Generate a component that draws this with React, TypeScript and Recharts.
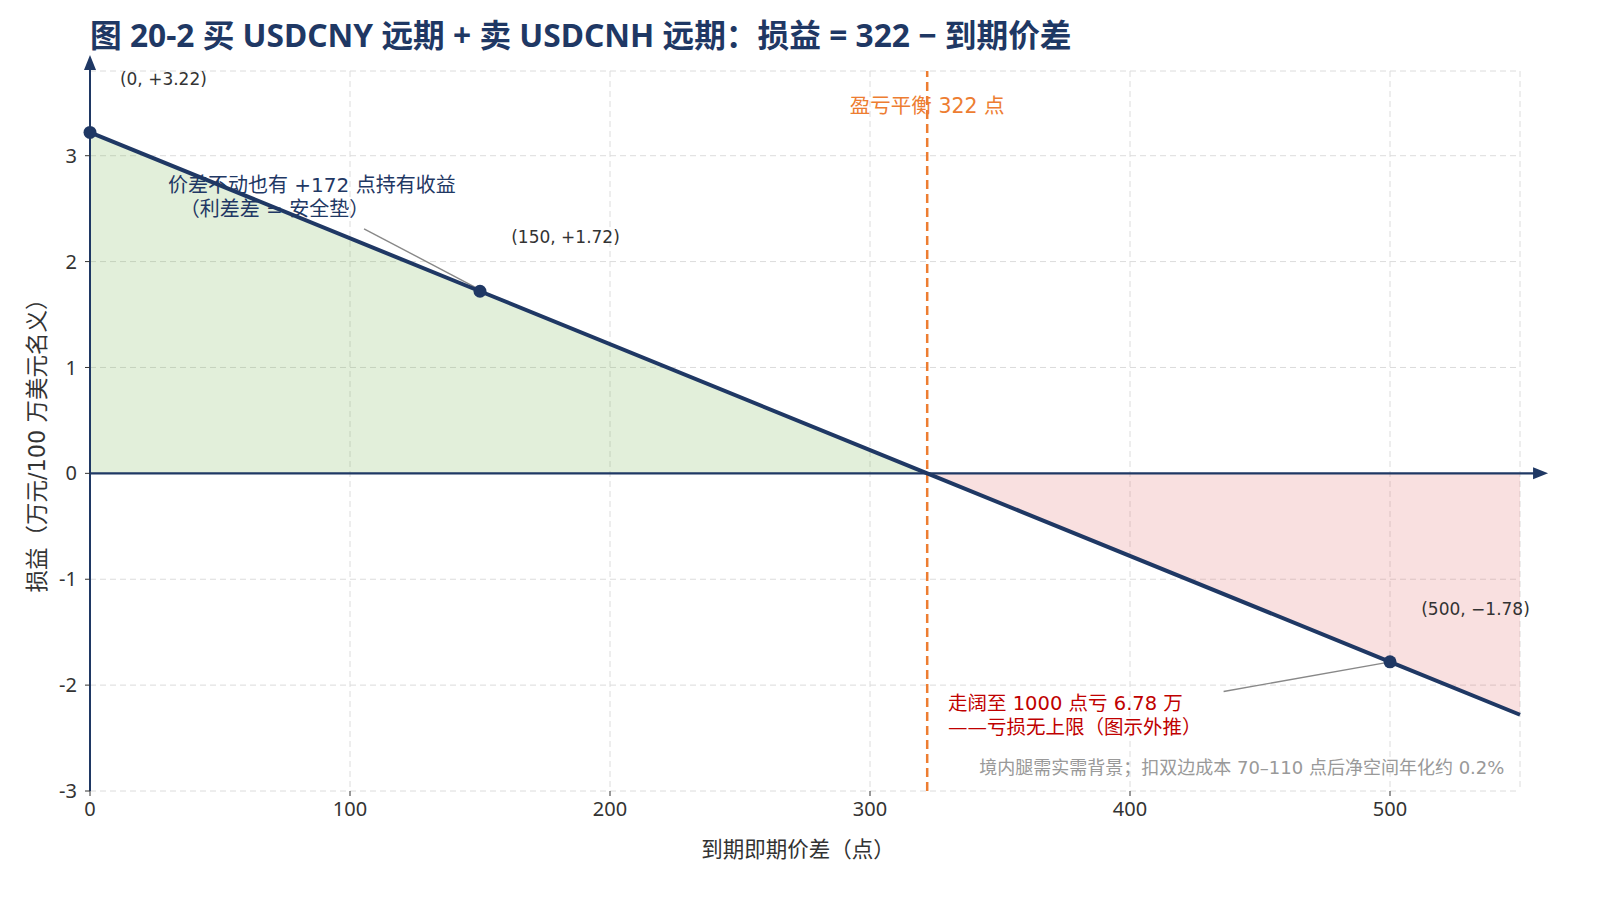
import React from 'react';
import {
  ComposedChart, Area, Line, Scatter, XAxis, YAxis, CartesianGrid,
  ReferenceLine, ReferenceDot,
} from 'recharts';

// spread at expiry (points) and P&L (10k CNY per USD 1m notional)
const SPREADS = [0, 150, 322, 500, 550];
const PNL = [3.22, 1.72, 0, -1.78, -2.28];
const KEY_SPREADS = [0, 150, 500];
const KEY_PNL = [3.22, 1.72, -1.78];
const BREAK_EVEN = 322;
const X_TICKS = [0, 100, 200, 300, 400, 500];
const Y_TICKS = [-3, -2, -1, 0, 1, 2, 3];

const NAVY = '#1f3864';
const ORANGE = '#ed7d31';
const FONT = '"Noto Sans", "Noto Sans CJK SC", sans-serif';
const NOTE_FONT = '"DejaVu Sans", "Noto Sans CJK SC", sans-serif';

const rows = SPREADS.map((x, i) => ({
  x,
  pnl: PNL[i],
  profit: x <= BREAK_EVEN ? PNL[i] : null,
  loss: x >= BREAK_EVEN ? PNL[i] : null,
}));
const keyRows = KEY_SPREADS.map((x, i) => ({ x, pnl: KEY_PNL[i] }));

type Note = { x: number; y: number; text: string; color: string; size: number; anchor?: string };
const NOTES: Note[] = [
  { x: 11.5, y: 3.72, text: '(0, +3.22)', color: '#333', size: 17 },
  { x: 162, y: 2.23, text: '(150, +1.72)', color: '#333', size: 17 },
  { x: 512, y: -1.28, text: '(500, −1.78)', color: '#333', size: 17 },
  { x: 322, y: 3.47, text: '盈亏平衡 322 点', color: ORANGE, size: 20.5, anchor: 'middle' },
  { x: 30, y: 2.72, text: '价差不动也有 +172 点持有收益', color: NAVY, size: 20 },
  { x: 34.5, y: 2.5, text: '（利差差 = 安全垫）', color: NAVY, size: 20 },
  { x: 330, y: -2.17, text: '走阔至 1000 点亏 6.78 万', color: '#c00000', size: 19.5 },
  { x: 330, y: -2.4, text: '——亏损无上限（图示外推）', color: '#c00000', size: 19.5 },
  { x: 544, y: -2.78, text: '境内腿需实需背景；扣双边成本 70–110 点后净空间年化约 0.2%', color: '#999', size: 18, anchor: 'end' },
];

const textShape = (n: Note) => (p: any) => (
  <text x={p.cx} y={p.cy} fill={n.color} fontSize={n.size} textAnchor={n.anchor || 'start'}
    dominantBaseline="central" fontFamily={NOTE_FONT}>{n.text}</text>
);

const arrowRight = (p: any) => (
  <polygon points={`${p.cx},${p.cy} ${p.cx - 15},${p.cy - 6} ${p.cx - 15},${p.cy + 6}`} fill={NAVY} />
);
const arrowUp = (p: any) => (
  <polygon points={`${p.cx},${p.cy} ${p.cx - 6},${p.cy + 15} ${p.cx + 6},${p.cy + 15}`} fill={NAVY} />
);

const App: React.FC = () => {
  return (
    <div style={{ position: 'absolute', left: 0, top: 0, width: 1600, height: 900, background: '#fff', fontFamily: FONT }}>
      <div style={{ position: 'absolute', left: 90, top: 10, fontSize: 31.7, fontWeight: 700, color: NAVY, whiteSpace: 'nowrap' }}>
        图 20-2 买 USDCNY 远期 + 卖 USDCNH 远期：损益 = 322 − 到期价差
      </div>
      <div style={{ position: 'absolute', left: 35, top: 440, transform: 'translate(-50%, -50%) rotate(-90deg)', fontSize: 22.5, color: '#333', whiteSpace: 'nowrap', fontFamily: NOTE_FONT }}>
        损益（万元/100 万美元名义）
      </div>
      <div style={{ position: 'absolute', left: 798, top: 847, transform: 'translate(-50%, -50%)', fontSize: 21.5, color: '#333', whiteSpace: 'nowrap' }}>
        到期即期价差（点）
      </div>
      <ComposedChart width={1600} height={900} data={rows} margin={{ top: 71, right: 80, bottom: 0, left: 0 }}>
        <CartesianGrid stroke="#dcdcdc" strokeDasharray="6 4" />
        <XAxis dataKey="x" type="number" domain={[0, 550]} ticks={X_TICKS} height={109}
          axisLine={false} tickLine={{ stroke: '#333' }} tickSize={5} tickMargin={6}
          tick={{ fill: '#333', fontSize: 20 }} />
        <YAxis type="number" domain={[-3, 3.8]} ticks={Y_TICKS} width={90} allowDataOverflow
          axisLine={{ stroke: NAVY, strokeWidth: 2 }} tickLine={{ stroke: '#333' }} tickSize={5} tickMargin={8}
          tick={{ fill: '#333', fontSize: 20 }} />
        <Area dataKey="profit" type="linear" baseValue={0} stroke="none" fill="#70ad47" fillOpacity={0.2}
          isAnimationActive={false} connectNulls={false} dot={false} activeDot={false} />
        <Area dataKey="loss" type="linear" baseValue={0} stroke="none" fill="#e06666" fillOpacity={0.2}
          isAnimationActive={false} connectNulls={false} dot={false} activeDot={false} />
        <ReferenceLine segment={[{ x: 0, y: 0 }, { x: 556, y: 0 }]} stroke={NAVY} strokeWidth={2.2} ifOverflow="visible" />
        <ReferenceLine segment={[{ x: 0, y: 3.8 }, { x: 0, y: 3.9 }]} stroke={NAVY} strokeWidth={2} ifOverflow="visible" />
        <ReferenceDot x={560.8} y={0} r={0} shape={arrowRight} ifOverflow="visible" />
        <ReferenceDot x={0} y={3.95} r={0} shape={arrowUp} ifOverflow="visible" />
        <ReferenceLine x={BREAK_EVEN} stroke={ORANGE} strokeWidth={2.5} strokeDasharray="9 5" />
        <ReferenceLine segment={[{ x: 105.4, y: 2.31 }, { x: 149.5, y: 1.74 }]} stroke="#888" strokeWidth={1.4} ifOverflow="visible" />
        <ReferenceLine segment={[{ x: 436, y: -2.06 }, { x: 498, y: -1.79 }]} stroke="#888" strokeWidth={1.4} ifOverflow="visible" />
        <Line dataKey="pnl" type="linear" stroke={NAVY} strokeWidth={4} dot={false} activeDot={false} isAnimationActive={false} />
        <Scatter data={keyRows} dataKey="pnl" fill={NAVY} isAnimationActive={false}
          shape={(p: any) => <circle cx={p.cx} cy={p.cy} r={6.5} fill={NAVY} />} />
        {NOTES.map((n) => (
          <ReferenceDot key={n.text} x={n.x} y={n.y} r={0} shape={textShape(n)} ifOverflow="visible" />
        ))}
      </ComposedChart>
    </div>
  );
};

export default App;
